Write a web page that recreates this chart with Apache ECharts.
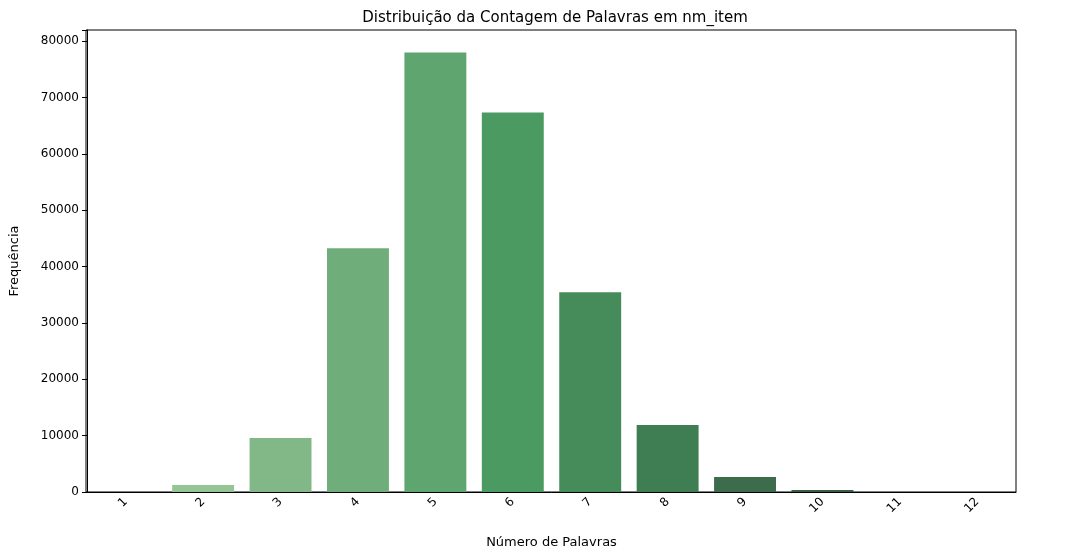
<!DOCTYPE html>
<html>
<head>
<meta charset="utf-8">
<script src="https://cdn.jsdelivr.net/npm/echarts@6/dist/echarts.min.js"></script>
<style>html,body{margin:0;padding:0;background:#fff}#chart{width:1085px;height:554px}</style>
</head>
<body>
<div id="chart"></div>
<script>
const categories = ['1', '2', '3', '4', '5', '6', '7', '8', '9', '10', '11', '12'];
const counts = [20, 1240, 9570, 43260, 78000, 67370, 35460, 11880, 2660, 350, 15, 3];
const barColors = ['#a9d3a6', '#96c595', '#82b887', '#6fae7b', '#5ea56f', '#4b9a62',
    '#458c5a', '#3f7d52', '#3c6c4b', '#385e43', '#33523c', '#2f4636'];

let chart = echarts.init(document.getElementById('chart'));
const font = 'DejaVu Sans';

chart.setOption({
    animation: false,
    title: {
        text: 'Distribuição da Contagem de Palavras em nm_item',
        left: 550, top: 6, textAlign: 'center',
        textStyle: {fontFamily: font, fontSize: 15, fontWeight: 'normal', color: '#000'}
    },
    grid: {left: 86, right: 69, top: 30, bottom: 62},
    xAxis: {
        type: 'category',
        data: categories,
        name: 'Número de Palavras',
        nameLocation: 'middle',
        nameGap: 44,
        nameTextStyle: {fontFamily: font, fontSize: 13, color: '#000'},
        axisLine: {lineStyle: {color: '#000'}},
        axisTick: {alignWithLabel: true, lineStyle: {color: '#000'}},
        axisLabel: {rotate: 45, fontFamily: font, fontSize: 12, color: '#000', margin: 8},
        splitLine: {show: false}
    },
    yAxis: {
        type: 'value',
        min: 0, max: 82000, interval: 10000,
        name: 'Frequência',
        nameLocation: 'middle',
        nameGap: 66,
        nameTextStyle: {fontFamily: font, fontSize: 13, color: '#000'},
        axisLine: {show: true, lineStyle: {color: '#000'}},
        axisTick: {show: true, lineStyle: {color: '#000'}},
        axisLabel: {fontFamily: font, fontSize: 12, color: '#000',
            formatter: v => (v % 10000 === 0 ? v : '')},
        splitLine: {show: false}
    },
    series: [{
        type: 'bar',
        barCategoryGap: '20%',
        data: counts.map((v, i) => ({value: v, itemStyle: {color: barColors[i]}}))
    }],
    graphic: [{
        type: 'rect', shape: {x: 86, y: 30, width: 930, height: 462},
        style: {fill: 'none', stroke: '#000', lineWidth: 1}, silent: true
    }]
});
</script>
</body>
</html>
